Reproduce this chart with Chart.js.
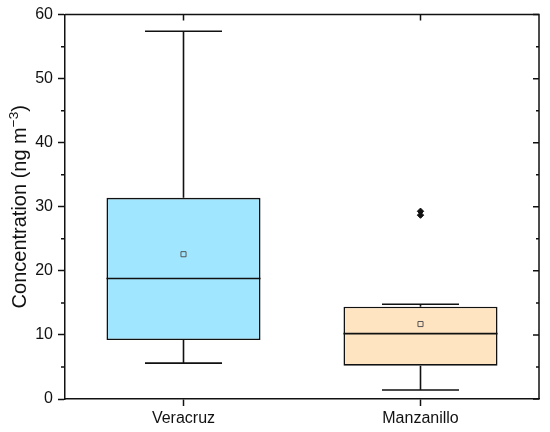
<!DOCTYPE html>
<html>

<head>
    <title>Concentration box plot</title>
    <script src="https://cdn.jsdelivr.net/npm/chart.js@4.4.1/dist/chart.umd.min.js"></script>
</head>

<style>
    body {
        margin: 0;
        background: white;
    }

    #wrap {
        width: 550px;
        height: 432px;
        position: relative;
    }
</style>

<body>

    <div id="wrap">
        <canvas id="boxChart"></canvas>
    </div>

    <script>

        // Box plot values (ng m-3)
        const categories = ["Veracruz", "Manzanillo"];
        const whiskerLow = [5.6, 1.4];
        const q1 = [9.2, 5.2];
        const median = [18.8, 10.2];
        const q3 = [31.4, 14.4];
        const whiskerHigh = [57.4, 14.8];
        const mean = [22.6, 11.7];
        const outliers = [[], [29.3, 28.7]];
        const boxColors = ["rgb(160, 230, 255)", "rgb(255, 228, 194)"];

        // Y axis
        const yMin = 0;
        const yMax = 60;
        const yMajor = 10;
        const yMinor = 5;

        const FONT = "'Liberation Sans', Arial, sans-serif";

        // Outlier points as {x, y} so they land on the right category
        const outlierPoints = [];
        outliers.forEach((list, i) => {
            list.forEach(v => outlierPoints.push({ x: categories[i], y: v }));
        });

        // Whiskers, medians, frame, minor ticks and y title
        const boxExtras = {
            id: "boxExtras",
            afterDatasetsDraw(chart) {
                const ctx = chart.ctx;
                const x = chart.scales.x;
                const y = chart.scales.y;
                const meta = chart.getDatasetMeta(2);

                ctx.save();
                ctx.strokeStyle = "#111";
                ctx.lineWidth = 1.6;
                ctx.lineCap = "butt";

                for (let i = 0; i < categories.length; i++) {
                    const cx = x.getPixelForValue(i);
                    const bar = meta.data[i];
                    const half = bar.width / 2;
                    const cap = half / 2;

                    // median
                    ctx.beginPath();
                    ctx.moveTo(cx - half, y.getPixelForValue(median[i]));
                    ctx.lineTo(cx + half, y.getPixelForValue(median[i]));
                    ctx.stroke();

                    // whiskers
                    ctx.beginPath();
                    ctx.moveTo(cx, y.getPixelForValue(q3[i]));
                    ctx.lineTo(cx, y.getPixelForValue(whiskerHigh[i]));
                    ctx.moveTo(cx - cap, y.getPixelForValue(whiskerHigh[i]));
                    ctx.lineTo(cx + cap, y.getPixelForValue(whiskerHigh[i]));
                    ctx.moveTo(cx, y.getPixelForValue(q1[i]));
                    ctx.lineTo(cx, y.getPixelForValue(whiskerLow[i]));
                    ctx.moveTo(cx - cap, y.getPixelForValue(whiskerLow[i]));
                    ctx.lineTo(cx + cap, y.getPixelForValue(whiskerLow[i]));
                    ctx.stroke();
                }
                ctx.restore();
            },
            afterDraw(chart) {
                const ctx = chart.ctx;
                const area = chart.chartArea;
                const x = chart.scales.x;
                const y = chart.scales.y;

                ctx.save();
                ctx.strokeStyle = "#111";
                ctx.lineWidth = 1.5;

                // top and right frame
                ctx.beginPath();
                ctx.moveTo(area.left, area.top);
                ctx.lineTo(area.right, area.top);
                ctx.lineTo(area.right, area.bottom);
                ctx.stroke();

                ctx.beginPath();
                for (let v = yMin; v <= yMax; v += yMinor) {
                    const py = y.getPixelForValue(v);
                    const major = v % yMajor === 0;
                    // left minor ticks (outward)
                    if (!major) {
                        ctx.moveTo(area.left, py);
                        ctx.lineTo(area.left - 4, py);
                    }
                    // right mirrored ticks (inward)
                    ctx.moveTo(area.right, py);
                    ctx.lineTo(area.right - (major ? 6 : 3), py);
                }
                // top mirrored ticks (inward)
                for (let i = 0; i < categories.length; i++) {
                    const px = x.getPixelForValue(i);
                    ctx.moveTo(px, area.top);
                    ctx.lineTo(px, area.top + 6);
                }
                ctx.stroke();

                // y title with superscript
                const main = "Concentration (ng m";
                const sup = "\u22123";
                const tail = ")";
                ctx.fillStyle = "#111";
                ctx.font = "20px " + FONT;
                const w1 = ctx.measureText(main).width;
                const w3 = ctx.measureText(tail).width;
                ctx.font = "13.5px " + FONT;
                const w2 = ctx.measureText(sup).width;
                const total = w1 + w2 + w3;

                ctx.translate(26, (area.top + area.bottom) / 2);
                ctx.rotate(-Math.PI / 2);
                ctx.textBaseline = "alphabetic";
                ctx.textAlign = "left";
                let pos = -total / 2;
                ctx.font = "20px " + FONT;
                ctx.fillText(main, pos, 0);
                pos += w1;
                ctx.font = "13.5px " + FONT;
                ctx.fillText(sup, pos, -8.5);
                pos += w2;
                ctx.font = "20px " + FONT;
                ctx.fillText(tail, pos, 0);

                ctx.restore();
            }
        };

        const ctx = document.getElementById("boxChart").getContext("2d");

        const chart = new Chart(ctx, {
            type: "bar",
            data: {
                labels: categories,
                datasets: [
                    {
                        type: "line",
                        label: "Mean",
                        data: mean,
                        showLine: false,
                        pointStyle: "rect",
                        pointRadius: 3.6,
                        pointBorderWidth: 1,
                        pointBorderColor: "#555",
                        pointBackgroundColor: "rgba(0,0,0,0)",
                        order: 0
                    },
                    {
                        type: "line",
                        label: "Outliers",
                        data: outlierPoints,
                        showLine: false,
                        pointStyle: "rectRot",
                        pointRadius: 3.2,
                        pointBorderWidth: 1,
                        pointBorderColor: "#111",
                        pointBackgroundColor: "#111",
                        order: 0
                    },
                    {
                        label: "Box",
                        data: categories.map((c, i) => [q1[i], q3[i]]),
                        backgroundColor: boxColors,
                        borderColor: "#111",
                        borderWidth: 1.6,
                        borderSkipped: false,
                        barPercentage: 0.65,
                        categoryPercentage: 1,
                        order: 1
                    }
                ]
            },
            options: {
                responsive: true,
                maintainAspectRatio: false,
                animation: false,
                layout: {
                    padding: { top: 14, right: 11, left: 0, bottom: 0 }
                },
                plugins: {
                    legend: { display: false },
                    tooltip: { enabled: false }
                },
                scales: {
                    x: {
                        offset: true,
                        border: { display: true, color: "#111", width: 1.5 },
                        grid: {
                            offset: false,
                            drawOnChartArea: false,
                            drawTicks: true,
                            tickLength: 7,
                            tickColor: "#111",
                            tickWidth: 1.5
                        },
                        ticks: {
                            color: "#111",
                            padding: 3,
                            font: { family: FONT, size: 16 }
                        },
                        afterFit(scale) {
                            scale.height = 33;
                        }
                    },
                    y: {
                        min: yMin,
                        max: yMax,
                        border: { display: true, color: "#111", width: 1.5 },
                        grid: {
                            drawOnChartArea: false,
                            drawTicks: true,
                            tickLength: 7,
                            tickWidth: 1.5,
                            tickColor: (c) => (c.tick && c.tick.value % yMajor !== 0) ? "rgba(0,0,0,0)" : "#111"
                        },
                        ticks: {
                            stepSize: yMinor,
                            color: "#111",
                            padding: 5,
                            font: { family: FONT, size: 16 },
                            callback: (v) => (v % yMajor === 0 ? v : "")
                        },
                        afterFit(scale) {
                            scale.width = 65;
                        }
                    }
                }
            },
            plugins: [boxExtras]
        });

    </script>
</body>

</html>
